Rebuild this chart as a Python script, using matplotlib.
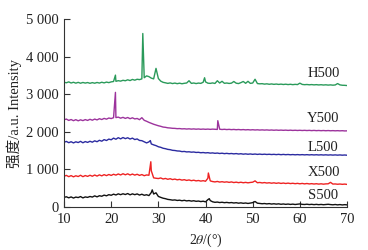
import matplotlib
matplotlib.use("Agg")
import matplotlib.pyplot as plt
import numpy as np

# shared 2-theta grid (degrees)
two_theta = [10.0, 10.5, 11.0, 11.5, 12.0, 12.5, 13.0, 13.5, 14.0, 14.5,
             15.0, 15.5, 16.0, 16.5, 17.0, 17.5, 18.0, 18.5, 19.0, 19.5,
             20.0, 20.5, 21.0, 21.5, 22.0, 22.5, 23.0, 23.5, 24.0, 24.5,
             25.0, 25.5, 26.0, 26.5, 27.0, 27.5, 28.0, 28.5, 29.0, 29.5,
             30.0, 30.5, 31.0, 31.5, 32.0, 32.5, 33.0, 33.5, 34.0, 34.5,
             35.0, 35.5, 36.0, 36.5, 37.0, 37.5, 38.0, 38.5, 39.0, 39.5,
             40.0, 40.5, 41.0, 41.5, 42.0, 42.5, 43.0, 43.5, 44.0, 44.5,
             45.0, 45.5, 46.0, 46.5, 47.0, 47.5, 48.0, 48.5, 49.0, 49.5,
             50.0, 50.5, 51.0, 51.5, 52.0, 52.5, 53.0, 53.5, 54.0, 54.5,
             55.0, 55.5, 56.0, 56.5, 57.0, 57.5, 58.0, 58.5, 59.0, 59.5,
             60.0, 60.5, 61.0, 61.5, 62.0, 62.5, 63.0, 63.5, 64.0, 64.5,
             65.0, 65.5, 66.0, 66.5, 67.0, 67.5, 68.0, 68.5, 69.0, 69.5,
             70.0]

S500 = [250, 266, 238, 262, 232, 258, 245, 272, 236, 262,
        250, 274, 258, 290, 264, 294, 280, 310, 292, 322,
        306, 336, 314, 344, 322, 346, 326, 352, 318, 344,
        322, 342, 312, 334, 306, 320, 298, 380, 340, 372,
        275, 250, 228, 215, 196, 188, 176, 182, 168, 175,
        160, 172, 156, 165, 150, 160, 145, 152, 138, 148,
        130, 190, 165, 132, 118, 125, 112, 120, 108, 116,
        105, 112, 100, 108, 95, 104, 92, 100, 88, 98,
        110, 140, 95, 88, 80, 86, 76, 84, 72, 80,
        70, 78, 66, 74, 64, 72, 62, 70, 60, 68,
        75, 64, 60, 68, 58, 65, 56, 64, 55, 62,
        54, 60, 66, 58, 52, 60, 50, 58, 48, 56,
        50]
S500_peak_pos = [28.7, 40.8]
S500_peak_val = [450, 215]

X500 = [815, 836, 802, 830, 798, 826, 806, 840, 802, 832,
        810, 840, 814, 846, 818, 850, 824, 856, 830, 860,
        836, 866, 844, 874, 848, 880, 852, 878, 846, 872,
        844, 866, 836, 858, 828, 848, 840, 960, 770, 760,
        752, 768, 740, 755, 732, 748, 725, 738, 718, 730,
        710, 722, 702, 715, 695, 708, 690, 700, 684, 695,
        680, 760, 690, 672, 662, 675, 658, 668, 655, 664,
        650, 662, 645, 656, 642, 654, 640, 650, 638, 648,
        655, 690, 640, 648, 635, 645, 632, 640, 628, 638,
        625, 636, 622, 632, 620, 630, 618, 626, 615, 624,
        612, 622, 610, 620, 608, 616, 606, 614, 604, 612,
        602, 610, 612, 650, 605, 608, 600, 606, 598, 604,
        596]
X500_peak_pos = [28.4, 40.6]
X500_peak_val = [1200, 900]

L500 = [1720, 1742, 1708, 1734, 1702, 1732, 1712, 1744, 1706, 1738,
        1716, 1746, 1722, 1758, 1734, 1772, 1748, 1790, 1766, 1804,
        1786, 1830, 1800, 1842, 1810, 1846, 1816, 1840, 1806, 1830,
        1792, 1808, 1768, 1762, 1732, 1702, 1730, 1675, 1650, 1630,
        1600, 1585, 1560, 1548, 1530, 1522, 1505, 1500, 1488, 1485,
        1470, 1475, 1462, 1466, 1455, 1460, 1448, 1452, 1440, 1446,
        1436, 1442, 1430, 1436, 1425, 1432, 1420, 1428, 1416, 1424,
        1414, 1420, 1410, 1418, 1406, 1414, 1402, 1410, 1400, 1408,
        1398, 1406, 1396, 1404, 1395, 1402, 1394, 1400, 1392, 1398,
        1390, 1398, 1388, 1396, 1388, 1394, 1386, 1392, 1385, 1391,
        1384, 1390, 1383, 1389, 1382, 1388, 1381, 1387, 1380, 1386,
        1379, 1385, 1378, 1384, 1377, 1383, 1376, 1382, 1375, 1380,
        1374]
L500_peak_pos = [28.3]
L500_peak_val = [1765]

Y500 = [2320, 2338, 2302, 2326, 2295, 2322, 2292, 2318, 2297, 2324,
        2302, 2332, 2308, 2338, 2316, 2348, 2326, 2356, 2336, 2366,
        2352, 2375, 2378, 2390, 2362, 2384, 2356, 2380, 2348, 2372,
        2342, 2354, 2322, 2375, 2305, 2280, 2250, 2225, 2200, 2180,
        2160, 2145, 2125, 2118, 2105, 2100, 2092, 2090, 2082, 2085,
        2076, 2080, 2072, 2078, 2070, 2076, 2068, 2074, 2066, 2072,
        2065, 2071, 2064, 2070, 2066, 2062, 2068, 2060, 2066, 2058,
        2064, 2056, 2062, 2054, 2060, 2052, 2058, 2050, 2056, 2048,
        2054, 2047, 2052, 2045, 2050, 2044, 2049, 2042, 2047, 2040,
        2046, 2039, 2044, 2038, 2043, 2036, 2042, 2035, 2040, 2034,
        2039, 2033, 2038, 2032, 2037, 2030, 2036, 2029, 2034, 2028,
        2033, 2027, 2032, 2026, 2030, 2025, 2029, 2024, 2028, 2022,
        2024]
Y500_peak_pos = [20.9, 42.6]
Y500_peak_val = [3050, 2295]

H500 = [3320, 3306, 3330, 3300, 3320, 3296, 3317, 3294, 3314, 3298,
        3312, 3292, 3310, 3294, 3314, 3298, 3320, 3303, 3324, 3310,
        3330, 3340, 3345, 3362, 3350, 3372, 3360, 3385, 3365, 3395,
        3375, 3400, 3390, 3410, 3440, 3490, 3470, 3430, 3410, 3690,
        3420, 3350, 3318, 3305, 3290, 3302, 3285, 3298, 3282, 3295,
        3280, 3292, 3300, 3360, 3290, 3300, 3285, 3298, 3290, 3320,
        3330, 3295, 3290, 3302, 3288, 3360, 3300, 3345, 3292, 3300,
        3288, 3296, 3340, 3295, 3285, 3310, 3340, 3292, 3345, 3290,
        3300, 3400, 3285, 3278, 3282, 3270, 3278, 3266, 3275, 3264,
        3272, 3262, 3270, 3260, 3268, 3258, 3266, 3256, 3264, 3258,
        3296, 3262, 3255, 3260, 3252, 3258, 3250, 3256, 3248, 3254,
        3246, 3252, 3244, 3250, 3242, 3248, 3285, 3250, 3240, 3238,
        3232]
H500_peak_pos = [20.9, 26.7, 39.8]
H500_peak_val = [3510, 4620, 3440]

series_names = ["S500", "X500", "L500", "Y500", "H500"]
series_vals = [S500, X500, L500, Y500, H500]
series_ppos = [S500_peak_pos, X500_peak_pos, L500_peak_pos, Y500_peak_pos, H500_peak_pos]
series_pval = [S500_peak_val, X500_peak_val, L500_peak_val, Y500_peak_val, H500_peak_val]
label_y = [300, 910, 1590, 2360, 3560]
colors = ["#111111", "#ee2222", "#2b2ba0", "#9c339c", "#2a9a5a"]

x_ticks = [10, 20, 30, 40, 50, 60, 70]
y_ticks = [0, 1000, 2000, 3000, 4000, 5000]
y_ticklabels = ["0", "1 000", "2 000", "3 000", "4 000", "5 000"]

plt.rcParams['font.family'] = ['Liberation Serif', 'Noto Sans CJK SC', 'DejaVu Sans']
plt.rcParams['mathtext.fontset'] = 'stix'

fig = plt.figure(figsize=(3.68, 2.5), dpi=100)
ax = fig.add_axes([0.174, 0.173, 0.769, 0.75])

for name, vals, pp, pv, c, ly in zip(series_names, series_vals, series_ppos,
                                     series_pval, colors, label_y):
    x = np.array(two_theta + pp)
    y = np.array(vals + pv)
    order = np.argsort(x, kind="stable")
    ax.plot(x[order], y[order], color=c, lw=1.0)
    ax.text(65, ly, name, ha="center", va="center", fontsize=10.5, color="#222222")

ax.set_xlim(10, 70)
ax.set_ylim(0, 5000)
ax.set_xticks(x_ticks)
ax.set_yticks(y_ticks)
ax.set_yticklabels(y_ticklabels)
ax.spines['top'].set_visible(False)
ax.spines['right'].set_visible(False)
for s in ['left', 'bottom']:
    ax.spines[s].set_linewidth(0.8)
    ax.spines[s].set_color("#333333")
ax.tick_params(direction='in', length=4, width=0.8, labelsize=10.5, colors="#333333",
               labelcolor="#222222")
ax.tick_params(axis='y', pad=4)
ax.tick_params(axis='x', pad=4.5)
ax.set_xlabel(r"2$\mathit{\theta}$/(°)", fontsize=10, color="#222222", labelpad=4)
ax.set_ylabel("强度/a.u. Intensity", fontsize=10.5, color="#222222", labelpad=3)

fig.savefig("out.png", dpi=100)
